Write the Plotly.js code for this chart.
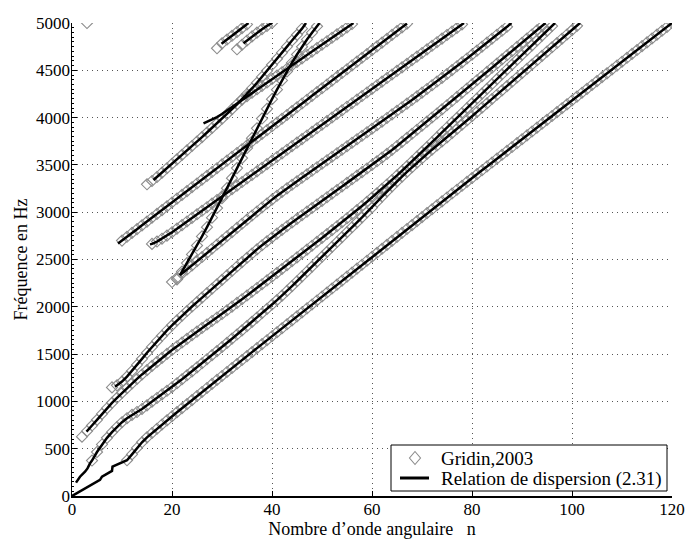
<!DOCTYPE html>
<html>
<head>
<meta charset="utf-8">
<script src="https://cdn.plot.ly/plotly-3.0.1.min.js"></script>
<style>html,body{margin:0;padding:0;background:#fff;}#chart{width:688px;height:539px;}</style>
</head>
<body>
<div id="chart"></div>
<script>
// ---- Data: markers (Gridin, 2003) at integer angular wave numbers n,
// f values in Hz; line prefixes/ends are the dispersion-relation curve starts/ends.
const B1_n0 = 11;
const B1_f = [378,440,508,568,620,666,711,756,800,843,
886,928,971,1014,1057,1100,1142,1185,1227,1269,
1311,1353,1395,1437,1479,1521,1563,1605,1647,1689,
1731,1773,1815,1857,1899,1941,1983,2025,2067,2109,
2151,2193,2235,2277,2319,2361,2403,2445,2487,2529,
2571,2613,2655,2697,2739,2781,2823,2864,2906,2948,
2990,3031,3073,3114,3156,3197,3238,3279,3320,3361,
3402,3443,3484,3525,3566,3607,3648,3689,3730,3771,
3812,3853,3894,3935,3976,4017,4058,4099,4140,4181,
4222,4263,4304,4345,4386,4427,4468,4509,4550,4591,
4632,4673,4714,4755,4795,4836,4877,4918,4959,5000];
const B1_pre_n = [0,5.6,6,8,8.1,9.6,10.8];
const B1_pre_f = [0,170,205,265,310,345,365];

const B2_n0 = 4;
const B2_f = [375,465,545,615,675,730,780,822,858,888,920,958,998,1036,1074,1112,1150,
1192,1234,1276,1318,1360,1403,1446,1489,1532,1575,1619,1663,1707,1751,1796,1841,1886,1932,1978,2024,2071,
2118,2168,2219,2270,2321,2373,2425,2477,2529,2581,
2633,2685,2737,2789,2841,2893,2945,2997,3049,3110,
3165,3220,3273,3325,3376,3426,3475,3523,3570,3616,
3661,3705,3748,3791,3835,3880,3925,3970,4015,4060,
4106,4151,4197,4242,4288,4333,4379,4424,4470,4515,
4561,4606,4652,4697,4743,4788,4834,4879,4925,4970];
const B2_pre_n = [0.8,1.6,2.6,3.1,3.6];
const B2_pre_f = [141,204,257,292,345];
const B2_end = [101.6,5000];

const C_n0 = 2;
const C_f = [627,685,745,805,868,928,985,1038,1090,1140,1190,1238,1285,1330,1375,1418,1460,1502,1543,
1583,1622,1661,1700,1738,1776,1813,1850,1887,1924,1963,2002,2041,2080,2119,2159,2199,2239,2279,2319,2359,2400,
2441,2482,2523,2564,2605,2646,2687,2728,2769,2810,2852,2894,2936,2979,3022,3066,3110,3155,3200,3246,3293,3341,
3389,3438,3487,3537,3587,3638,3689,3740,3792,3844,3896,
3947,3998,4049,4100,4151,4202,4253,4304,4355,4407,4458,4509,4560,4611,4662,4713,4764,4815,4866,4917,4968];
const C_pre_n = [2.9];
const C_pre_f = [680];
const C_end = [96.6,5000];

const D_n0 = 8;
const D_f = [1148,1170,1210,1262,1322,1386,1450,1514,1576,1636,
1694,1750,1804,1856,1906,1955,2003,2050,2097,2144,
2191,2238,2285,2332,2379,2426,2472,2518,2563,2607,
2650,2692,2733,2773,2813,
2852,2891,2930,2968,3006,3044,3082,3120,3158,3196,
3234,3272,3310,3348,3386,3424,3462,3500,3538,3577,
3617,3658,3700,3743,3786,3829,3872,3915,3958,4001,
4044,4087,4131,4175,4219,4263,4307,4351,4395,4439,
4483,4527,4571,4615,4659,4703,4747,4791,4835,4879,
4923,4967];
const D_pre_n = [8.6];
const D_pre_f = [1156];
const D_end = [94.7,5000];

const T_n0 = 20;
const T_f = [2262,2306,2350,2394,2438,2482,2526,2570,2614,2658,
2702,2746,2790,2834,2878,2922,2965,3008,3050,3092,
3133,3174,3214,3252,3290,3327,3364,3401,3438,3475,
3512,3549,3586,3623,3660,3697,3734,3771,3808,3845,
3882,3920,3958,3996,4034,4072,4110,4148,4186,4225,
4264,4303,4342,4381,4420,4461,4502,4543,4584,4625,
4666,4708,4750,4792,4834,4876,4918,4960];
const T_pre_n = [21.6];
const T_pre_f = [2336];
const T_end = [87.9,5000];

const S_n0 = 21;
const S_f = [2290,2372,2462,2554,2648,2744,2842,2942,3044,3148,
3254,3360,3466,3572,3678,3783,3887,3990,4092,4195,
4295,4393,4488,4580,4667,4749,4826,4898,4965];
const S_pre_n = [21.6];
const S_pre_f = [2336];
const S_end = [49.5,5000];

const J_n0 = 15;
const J_f = [3295,3330,3372,3418,3465,3512,3559,3606,3653,3700,
3747,3794,3842,3890,3939,3988,4038,4089,4141,4194,
4250,4308,4368,4430,4494,4558,4622,4686,4750,4815,
4875,4940];
const J_pre_n = [16.3];
const J_pre_f = [3340];
const J_end = [46.8,5000];

const L_n0 = 34;
const L_f = [4190,4226,4262,4299,4335,4371,4408,4444,4480,4517,4553,4589,4626,4662,4698,4735,4771,4807,4844,4880,4916,4953,4989];
const L_pre_n = [26.3,27,28,29,30,31,32,33];
const L_pre_f = [3940,3955,3978,4005,4038,4075,4113,4152];
const L_end = [56.3,5000];

const E_n0 = 10;
const E_f = [2700,2740,2781,2821,2861,2901,2942,2982,3022,3062,
3103,3143,3183,3223,3264,3304,3344,3384,3425,3465,
3505,3545,3586,3626,3666,3706,3747,3787,3827,3867,
3908,3948,3988,4028,4069,4109,4149,4189,4230,4270,
4310,4350,4391,4431,4471,4511,4552,4592,4632,4672,
4713,4753,4793,4833,4874,4914,4954,4994];
const E_pre_n = [9.2];
const E_pre_f = [2670];

const F_n0 = 16;
const F_f = [2665,2690,2720,2753,2788,2826,2864,2902,2940,2978,
3015,3053,3091,3129,3167,3205,3243,3281,3319,3357,
3394,3432,3470,3508,3546,3584,3622,3660,3698,3736,
3773,3811,3849,3887,3925,3963,4001,4039,4077,4115,
4152,4190,4228,4266,4304,4342,4380,4418,4456,4494,
4531,4569,4607,4645,4683,4721,4759,4797,4835,4873,
4910,4948,4986];
const F_pre_n = [15.6];
const F_pre_f = [2660];
const F_end = [78.4,5000];

const K1_n0 = 29;
const K1_f = [4733,4785,4825,4865,4905,4945,4985];
const K1_pre_n = [29.9];
const K1_pre_f = [4780];
const K1_end = [35.3,5000];

const K2_n0 = 33;
const K2_f = [4722,4770,4815,4858,4898,4935,4970,5000];
const K2_pre_n = [34.3];
const K2_pre_f = [4785];

const ISO_n = [3];
const ISO_f = [5000];

const LEGEND_LABELS = ['Gridin,2003','Relation de dispersion (2.31)'];

const branches = [
  {n0:B1_n0,f:B1_f,pn:B1_pre_n,pf:B1_pre_f},
  {n0:B2_n0,f:B2_f,pn:B2_pre_n,pf:B2_pre_f,end:B2_end},
  {n0:C_n0,f:C_f,pn:C_pre_n,pf:C_pre_f,end:C_end},
  {n0:D_n0,f:D_f,pn:D_pre_n,pf:D_pre_f,end:D_end},
  {n0:T_n0,f:T_f,pn:T_pre_n,pf:T_pre_f,end:T_end},
  {n0:S_n0,f:S_f,pn:S_pre_n,pf:S_pre_f,end:S_end},
  {n0:J_n0,f:J_f,pn:J_pre_n,pf:J_pre_f,end:J_end},
  {n0:L_n0,f:L_f,pn:L_pre_n,pf:L_pre_f,end:L_end},
  {n0:E_n0,f:E_f,pn:E_pre_n,pf:E_pre_f},
  {n0:F_n0,f:F_f,pn:F_pre_n,pf:F_pre_f,end:F_end},
  {n0:K1_n0,f:K1_f,pn:K1_pre_n,pf:K1_pre_f,end:K1_end},
  {n0:K2_n0,f:K2_f,pn:K2_pre_n,pf:K2_pre_f}
];

const GRAY = '#8c8c8c';
const mk = {symbol:'diamond-open',size:8.5,color:GRAY,line:{width:1.1,color:GRAY}};
const traces = [];
branches.forEach((b,i)=>{
  const xs = b.f.map((_,k)=>b.n0+k);
  traces.push({x:xs,y:b.f,mode:'markers',type:'scatter',name:LEGEND_LABELS[0],
    showlegend:false,marker:mk,hoverinfo:'skip'});
});
traces.push({x:ISO_n,y:ISO_f,mode:'markers',type:'scatter',name:LEGEND_LABELS[0],showlegend:false,marker:mk,hoverinfo:'skip'});
branches.forEach((b,i)=>{
  const last = b.pn[b.pn.length-1];
  const lx = b.pn.slice(), ly = b.pf.slice();
  b.f.forEach((v,k)=>{ const n=b.n0+k; if(n>last){lx.push(n);ly.push(v);} });
  if(b.end){lx.push(b.end[0]);ly.push(b.end[1]);}
  traces.push({x:lx,y:ly,mode:'lines',type:'scatter',name:LEGEND_LABELS[1],
    showlegend:false,line:{color:'#000',width:2.5},hoverinfo:'skip'});
});

const FF = 'Liberation Serif, Times New Roman, serif';
const tickFont = {family:FF,size:17,color:'#000'};
const titleFont = {family:FF,size:18,color:'#000'};
const axisCommon = {showgrid:true,gridcolor:'#555',griddash:'1px,4px',gridwidth:1,
  zeroline:false,showline:true,linecolor:'#000',linewidth:1.5,ticks:'inside',ticklen:5,
  tickcolor:'#000',tickwidth:1,tickfont:tickFont};

// legend box drawn in paper coordinates (plot area: 600 x 473 px)
const px = v => (v-72)/600, py = v => (496-v)/473;
const shapes = [
  {type:'rect',xref:'paper',yref:'paper',x0:px(391),x1:px(667),y0:py(491),y1:py(445),
   line:{color:'#000',width:1},fillcolor:'#fff',layer:'above'},
  {type:'line',xref:'paper',yref:'paper',x0:px(400),x1:px(429),y0:py(478),y1:py(478),
   line:{color:'#000',width:3},layer:'above'},
  {type:'path',xref:'paper',yref:'paper',xsizemode:'pixel',ysizemode:'pixel',
   xanchor:px(415),yanchor:py(458),path:'M0,6.5 L5.5,0 L0,-6.5 L-5.5,0 Z',
   line:{color:GRAY,width:1.1},fillcolor:'rgba(0,0,0,0)',layer:'above'}
];
const annotations = [
  {xref:'paper',yref:'paper',x:px(439),y:py(458),xanchor:'left',yanchor:'middle',showarrow:false,
   text:LEGEND_LABELS[0],font:{family:FF,size:19,color:'#000'}},
  {xref:'paper',yref:'paper',x:px(439),y:py(479),xanchor:'left',yanchor:'middle',showarrow:false,
   text:LEGEND_LABELS[1],font:{family:FF,size:19,color:'#000'}}
];

const layout = {
  width:688,height:539,
  margin:{l:72,r:16,t:23,b:43},
  paper_bgcolor:'#fff',plot_bgcolor:'#fff',
  font:tickFont,
  showlegend:false,
  shapes:shapes,annotations:annotations,
  xaxis:Object.assign({range:[0,120],dtick:20,tick0:0,ticklabelstandoff:-3,
    title:{text:'Nombre d\u2019onde angulaire   n',font:titleFont,standoff:2}},axisCommon),
  yaxis:Object.assign({range:[0,5000],dtick:500,tick0:0,ticklabelstandoff:-3,
    minor:{dtick:50,ticklen:2,tickcolor:'#000',ticks:'inside',showgrid:false},
    title:{text:'Fréquence en Hz',font:titleFont,standoff:4}},axisCommon)
};
Plotly.newPlot('chart',traces,layout,{displayModeBar:false,staticPlot:true});
</script>
</body>
</html>
